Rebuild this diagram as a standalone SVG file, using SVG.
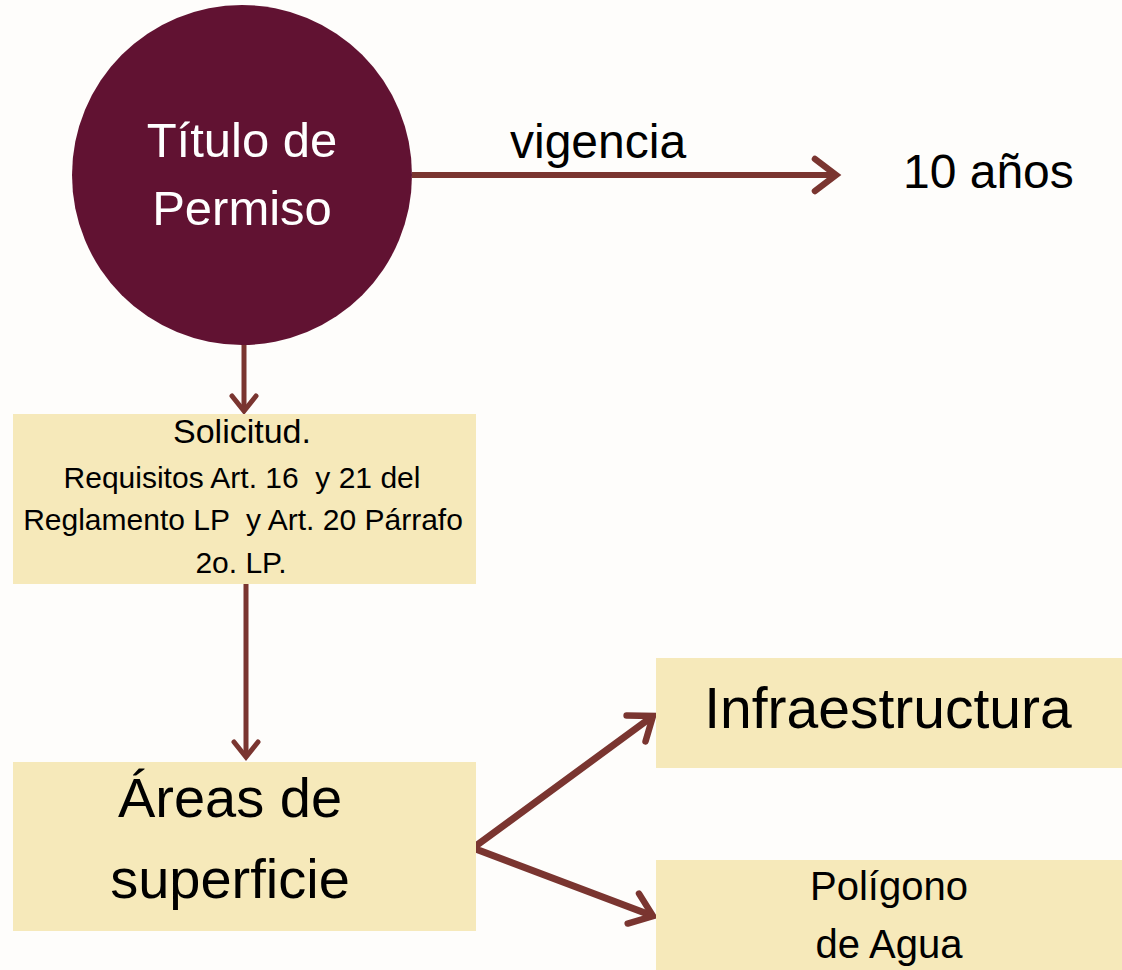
<svg xmlns="http://www.w3.org/2000/svg" width="1122" height="970" viewBox="0 0 1122 970">
  <defs>
    <style>
      text { font-family: "Liberation Sans", Arial, sans-serif; fill: #000; }
      .box { fill: #F6E9BA; }
      .conn { stroke: #7A3530; fill: none; stroke-linecap: butt; }
      .head { stroke: #7A3530; fill: none; stroke-linecap: round; stroke-linejoin: miter; }
    </style>
    <marker id="bigHead" markerUnits="userSpaceOnUse" viewBox="-30 -24 36 48" refX="0" refY="0" markerWidth="36" markerHeight="48" orient="auto-start-reverse" overflow="visible">
      <path class="head" d="M-21,-16 L0,0 L-21,16" stroke-width="6.5"/>
    </marker>
    <marker id="smallHead" markerUnits="userSpaceOnUse" viewBox="-24 -18 30 36" refX="0" refY="0" markerWidth="30" markerHeight="36" orient="auto" overflow="visible">
      <path class="head" d="M-15,-12 L0,0 L-15,12" stroke-width="5"/>
    </marker>
  </defs>

  <rect x="0" y="0" width="1122" height="970" fill="#FEFDFB"/>

  <g id="connectors">
    <line class="conn" x1="412" y1="175" x2="836" y2="175" stroke-width="6" marker-end="url(#bigHead)"/>
    <line class="conn" x1="244" y1="345" x2="244" y2="411" stroke-width="5" marker-end="url(#smallHead)"/>
    <line class="conn" x1="246" y1="584" x2="246" y2="757" stroke-width="5" marker-end="url(#smallHead)"/>
    <path class="conn" d="M653,716 L473,848 L653,916" stroke-width="7" stroke-linejoin="miter" marker-start="url(#bigHead)" marker-end="url(#bigHead)"/>
  </g>

  <g id="node-titulo">
    <circle cx="242" cy="175" r="170" fill="#611232"/>
    <text x="242" y="157" font-size="49" text-anchor="middle" style="fill:#FFFFFF">Título de</text>
    <text x="242" y="225" font-size="49" text-anchor="middle" style="fill:#FFFFFF">Permiso</text>
  </g>

  <g id="label-vigencia">
    <text x="510" y="158" font-size="48">vigencia</text>
  </g>

  <g id="node-10anos">
    <text x="903" y="188" font-size="48">10 años</text>
  </g>

  <g id="node-solicitud">
    <rect class="box" x="13" y="414" width="463" height="170"/>
    <text x="242" y="443" font-size="34" text-anchor="middle">Solicitud.</text>
    <text x="242" y="488" font-size="30" text-anchor="middle" xml:space="preserve">Requisitos Art. 16  y 21 del</text>
    <text x="243" y="530" font-size="30" text-anchor="middle" xml:space="preserve">Reglamento LP  y Art. 20 Párrafo</text>
    <text x="241" y="573" font-size="30" text-anchor="middle">2o. LP.</text>
  </g>

  <g id="node-areas">
    <rect class="box" x="13" y="762" width="463" height="169"/>
    <text x="230" y="817" font-size="56" text-anchor="middle">Áreas de</text>
    <text x="230" y="898" font-size="56" text-anchor="middle">superficie</text>
  </g>

  <g id="node-infraestructura">
    <rect class="box" x="656" y="658" width="466" height="110"/>
    <text x="888" y="728" font-size="57" text-anchor="middle">Infraestructura</text>
  </g>

  <g id="node-poligono">
    <rect class="box" x="656" y="860" width="466" height="110"/>
    <text x="889" y="900" font-size="40" text-anchor="middle">Polígono</text>
    <text x="889" y="958" font-size="40" text-anchor="middle">de Agua</text>
  </g>
</svg>
